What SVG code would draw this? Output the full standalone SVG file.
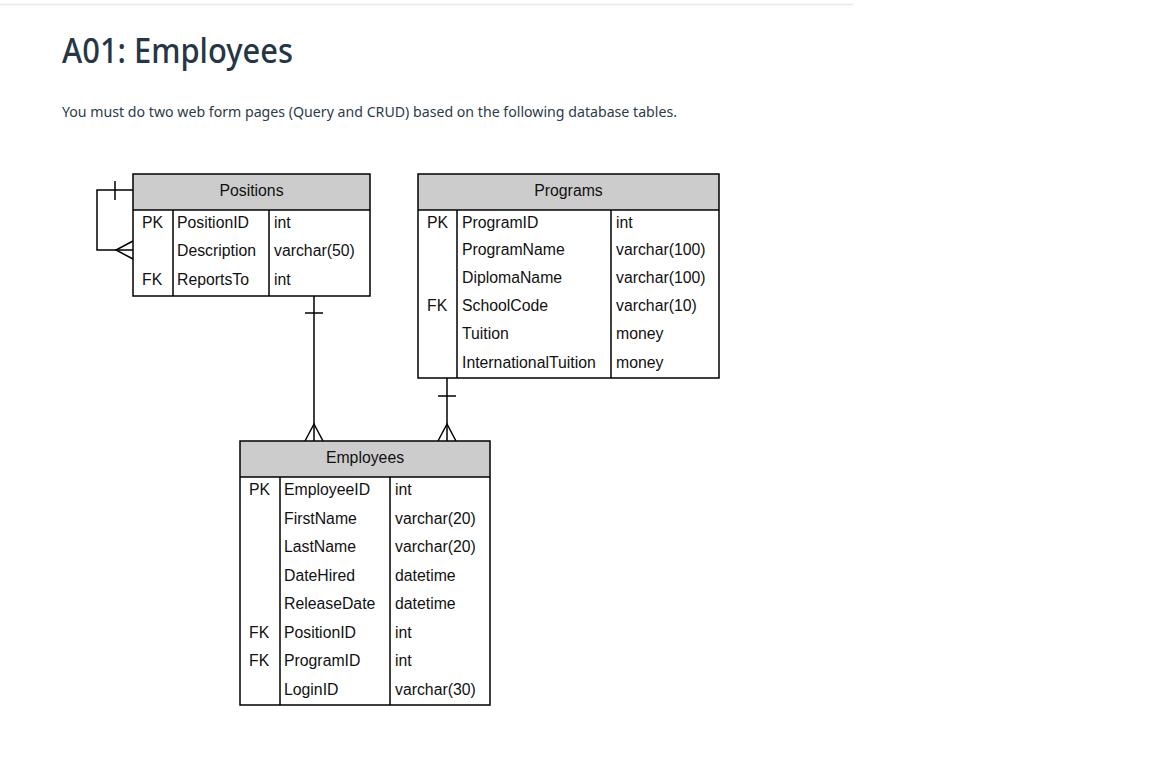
<svg xmlns="http://www.w3.org/2000/svg" width="1152" height="778" viewBox="0 0 1152 778">
<style>
.hdr{fill:#cccccc;stroke:none}
.box{fill:none;stroke:#000;stroke-width:1.5}
.ln{stroke:#000;stroke-width:1.5;fill:none}
.t{font-family:"Liberation Sans",Arial,sans-serif;font-size:15.8px;fill:#111}
.c{text-anchor:middle}
</style>
<rect width="1152" height="778" fill="#fff"/>
<line x1="0" y1="4.5" x2="853" y2="4.5" stroke="#e8e8e8" stroke-width="1.5"/>
<text x="62" y="63" font-family="'Noto Sans','Open Sans',sans-serif" font-size="34" font-weight="500" fill="#253746" textLength="231" lengthAdjust="spacingAndGlyphs">A01: Employees</text>
<text x="62" y="117" font-family="'Noto Sans','Open Sans',sans-serif" font-size="14" fill="#2d3b48" textLength="615" lengthAdjust="spacingAndGlyphs">You must do two web form pages (Query and CRUD) based on the following database tables.</text>

<g id="connectors">
<polyline class="ln" points="133,190 97,190 97,250 133,250"/>
<line class="ln" x1="115" y1="181" x2="115" y2="200"/>
<polyline class="ln" points="133,241 116,250 133,259"/>
<line class="ln" x1="314" y1="296" x2="314" y2="441"/>
<line class="ln" x1="305" y1="313" x2="323" y2="313"/>
<polyline class="ln" points="305,441 314,424 323,441"/>
<line class="ln" x1="447" y1="378" x2="447" y2="441"/>
<line class="ln" x1="438" y1="396" x2="456" y2="396"/>
<polyline class="ln" points="438,441 447,424 456,441"/>
</g>

<g id="positions">
<rect class="hdr" x="133" y="174" width="237" height="36"/>
<rect class="box" x="133" y="174" width="237" height="122"/>
<line class="ln" x1="133" y1="210" x2="370" y2="210"/>
<line class="ln" x1="173" y1="210" x2="173" y2="296"/>
<line class="ln" x1="269" y1="210" x2="269" y2="296"/>
<text class="t c" x="251.5" y="195.5">Positions</text>
<text class="t" x="142" y="227.5">PK</text>
<text class="t" x="142" y="284.5">FK</text>
<text class="t" x="177" y="227.5">PositionID</text>
<text class="t" x="177" y="255.5">Description</text>
<text class="t" x="177" y="284.5">ReportsTo</text>
<text class="t" x="274" y="227.5">int</text>
<text class="t" x="274" y="255.5">varchar(50)</text>
<text class="t" x="274" y="284.5">int</text>
</g>

<g id="programs">
<rect class="hdr" x="418" y="174" width="301" height="36"/>
<rect class="box" x="418" y="174" width="301" height="204"/>
<line class="ln" x1="418" y1="210" x2="719" y2="210"/>
<line class="ln" x1="457" y1="210" x2="457" y2="378"/>
<line class="ln" x1="611" y1="210" x2="611" y2="378"/>
<text class="t c" x="568.5" y="195.5">Programs</text>
<text class="t" x="427" y="227.5">PK</text>
<text class="t" x="427" y="310.5">FK</text>
<text class="t" x="462" y="227.5">ProgramID</text>
<text class="t" x="462" y="254.5">ProgramName</text>
<text class="t" x="462" y="282.5">DiplomaName</text>
<text class="t" x="462" y="310.5">SchoolCode</text>
<text class="t" x="462" y="338.5">Tuition</text>
<text class="t" x="462" y="367.5">InternationalTuition</text>
<text class="t" x="616" y="227.5">int</text>
<text class="t" x="616" y="254.5">varchar(100)</text>
<text class="t" x="616" y="282.5">varchar(100)</text>
<text class="t" x="616" y="310.5">varchar(10)</text>
<text class="t" x="616" y="338.5">money</text>
<text class="t" x="616" y="367.5">money</text>
</g>

<g id="employees">
<rect class="hdr" x="240" y="441" width="250" height="36"/>
<rect class="box" x="240" y="441" width="250" height="264"/>
<line class="ln" x1="240" y1="477" x2="490" y2="477"/>
<line class="ln" x1="280" y1="477" x2="280" y2="705"/>
<line class="ln" x1="390" y1="477" x2="390" y2="705"/>
<text class="t c" x="365" y="462.5">Employees</text>
<text class="t" x="249" y="494.5">PK</text>
<text class="t" x="249" y="637.5">FK</text>
<text class="t" x="249" y="665.5">FK</text>
<text class="t" x="284" y="494.5">EmployeeID</text>
<text class="t" x="284" y="523.5">FirstName</text>
<text class="t" x="284" y="551.5">LastName</text>
<text class="t" x="284" y="580.5">DateHired</text>
<text class="t" x="284" y="608.5">ReleaseDate</text>
<text class="t" x="284" y="637.5">PositionID</text>
<text class="t" x="284" y="665.5">ProgramID</text>
<text class="t" x="284" y="694.5">LoginID</text>
<text class="t" x="395" y="494.5">int</text>
<text class="t" x="395" y="523.5">varchar(20)</text>
<text class="t" x="395" y="551.5">varchar(20)</text>
<text class="t" x="395" y="580.5">datetime</text>
<text class="t" x="395" y="608.5">datetime</text>
<text class="t" x="395" y="637.5">int</text>
<text class="t" x="395" y="665.5">int</text>
<text class="t" x="395" y="694.5">varchar(30)</text>
</g>
</svg>
